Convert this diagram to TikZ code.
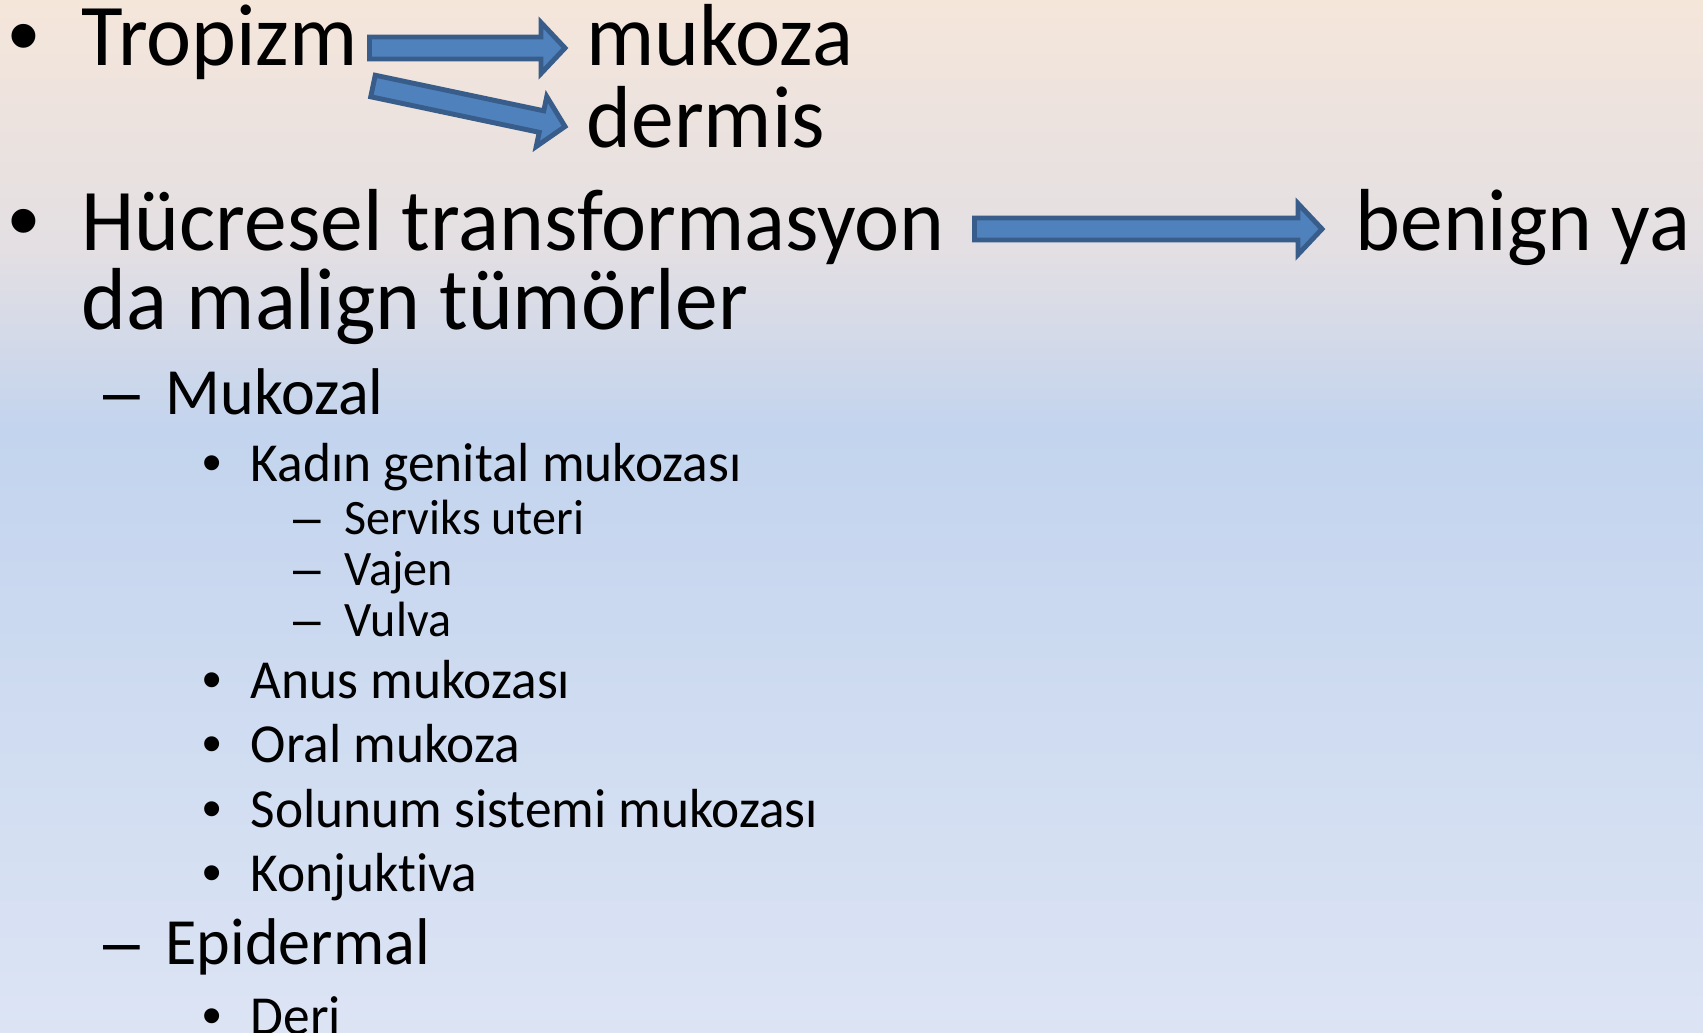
\documentclass[tikz,border=0pt]{standalone}
\usepackage{fontspec}
\setmainfont[Ligatures={NoCommon}, FakeStretch=0.97]{Carlito}
\newfontfamily\bulletfont{Liberation Sans}
\usetikzlibrary{calc}

\definecolor{bgtop}{HTML}{F5E6DA}
\definecolor{bggray}{HTML}{E3DFE3}
\definecolor{bgmid}{HTML}{C3D4EE}
\definecolor{bgbot}{HTML}{DCE4F4}
\definecolor{arrfill}{HTML}{4F81BD}
\definecolor{arrline}{HTML}{385D8A}

\pgfdeclareverticalshading{slidebg}{100bp}{color(0bp)=(bgbot); color(25bp)=(bgbot);
  color(54.2bp)=(bgmid); color(62.9bp)=(bggray); color(75bp)=(bgtop); color(100bp)=(bgtop)}

% block arrow from tail #1 to tip #2
\newcommand\blockarrow[2]{%
  \coordinate (hb) at ($(#2)!0.24cm!(#1)$);
  \draw[barrow] ($(#1)!0.11cm!90:(#2)$) -- ($(hb)!0.11cm!-90:(#1)$)
    -- ($(hb)!0.255cm!-90:(#1)$) -- (#2) -- ($(hb)!0.255cm!90:(#1)$)
    -- ($(hb)!0.11cm!90:(#1)$) -- ($(#1)!0.11cm!-90:(#2)$) -- cycle;
}

\begin{document}
\begin{tikzpicture}[x=0.01cm, y=-0.01cm,
    every node/.style={inner sep=0pt},
    lone/.style={anchor=base west, font=\fontsize{25.04pt}{30pt}\selectfont},
    ltwo/.style={anchor=base west, font=\fontsize{18.78pt}{22pt}\selectfont},
    lthree/.style={anchor=base west, font=\fontsize{15.65pt}{19pt}\selectfont},
    lfour/.style={anchor=base west, font=\fontsize{14.09pt}{17pt}\selectfont},
    bone/.style={anchor=base, font=\bulletfont\fontsize{25.04pt}{30pt}\selectfont},
    btwo/.style={anchor=base, font=\bulletfont\fontsize{18.78pt}{22pt}\selectfont},
    bthree/.style={anchor=base, font=\bulletfont\fontsize{15.65pt}{19pt}\selectfont},
    bfour/.style={anchor=base, font=\bulletfont\fontsize{14.09pt}{17pt}\selectfont},
    barrow/.style={fill=arrfill, draw=arrline, line width=1.4pt}]
    \useasboundingbox (0,0) rectangle (1703,1032);
    \clip (0,0) rectangle (1703,1032);
    \shade[shading=slidebg] (0,0) rectangle (1703,1032);

    \node[lone] (tropizm) at (81,65) {Tropizm};
    \node[lone] (mukoza) at (586,65) {mukoza};
    \node[lone] (dermis) at (586,147) {dermis};
    \node[lone] (hucre) at (81,250) {Hücresel transformasyon};
    \node[lone] (benign) at (1355,250) {benign ya};
    \node[lone] (malign) at (81,329) {da malign tümörler};

    \node[ltwo] (mukozal) at (165,414) {Mukozal};
    \node[lthree] (kadin) at (250,481) {Kadın genital mukozası};
    \node[lfour] (serviks) at (344,534) {Serviks uteri};
    \node[lfour] (vajen) at (344,585) {Vajen};
    \node[lfour] (vulva) at (344,636) {Vulva};
    \node[lthree] (anus) at (250,698) {Anus mukozası};
    \node[lthree] (oral) at (250,762) {Oral mukoza};
    \node[lthree] (solunum) at (250,827) {Solunum sistemi mukozası};
    \node[lthree] (konj) at (250,891) {Konjuktiva};
    \node[ltwo] (epidermal) at (165,964) {Epidermal};
    \node[lthree] (deri) at (250,1034) {Deri};

    % bullets
    \foreach \y in {65,250} \node[bone] (b1-\y) at (24,\y) {•};
    \foreach \y in {414,964} \node[btwo] (b2-\y) at (122,\y) {–};
    \foreach \y in {481,698,762,827,891,1034} \node[bthree] (b3-\y) at (212,\y) {•};
    \foreach \y in {534,585,636} \node[bfour] (b4-\y) at (307,\y) {–};

    % arrows
    \coordinate (t1) at (369.5,48);
    \coordinate (h1) at (565,48);
    \coordinate (t2) at (373,86);
    \coordinate (h2) at (565,126.5);
    \coordinate (t3) at (974.5,229);
    \coordinate (h3) at (1322,229);
    \blockarrow{t1}{h1}
    \blockarrow{t2}{h2}
    \blockarrow{t3}{h3}
\end{tikzpicture}
\end{document}
